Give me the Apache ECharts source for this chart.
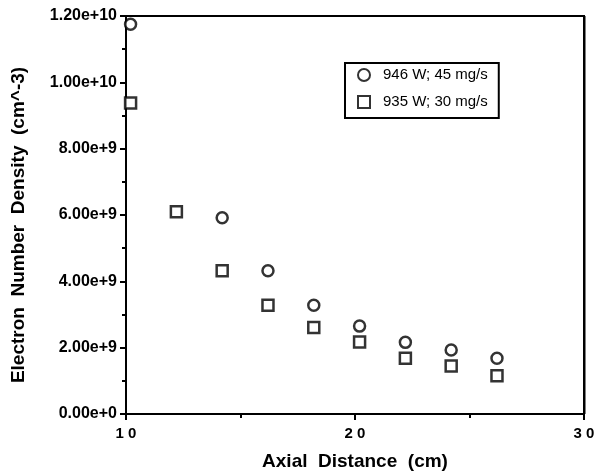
<!DOCTYPE html>
<html>
<head>
<meta charset="utf-8">
<script src="https://cdn.jsdelivr.net/npm/echarts@6/dist/echarts.min.js"></script>
<style>
  html, body { margin: 0; padding: 0; background: #fff; }
  #chart { width: 596px; height: 473px; }
</style>
</head>
<body>
<div id="chart"></div>
<script>
  // values (x in cm, y in cm^-3)
  const circleX = [10.2, 14.2, 16.2, 18.2, 20.2, 22.2, 24.2, 26.2];
  const circleY = [11.75e9, 5.92e9, 4.32e9, 3.28e9, 2.65e9, 2.16e9, 1.93e9, 1.68e9];
  const squareX = [10.2, 12.2, 14.2, 16.2, 18.2, 20.2, 22.2, 24.2, 26.2];
  const squareY = [9.38e9, 6.10e9, 4.32e9, 3.28e9, 2.61e9, 2.17e9, 1.68e9, 1.45e9, 1.15e9];
  const seriesNames = ["946 W; 45 mg/s", "935 W; 30 mg/s"];

  const font = "Liberation Sans, Arial, sans-serif";
  const zip = (xs, ys) => xs.map((x, i) => [x, ys[i]]);

  const myChart = echarts.init(document.getElementById("chart"));

  const axisLine = { show: true, onZero: false, lineStyle: { color: "#000", width: 2 } };
  const tick = { show: true, length: 6, lineStyle: { color: "#000", width: 2 } };
  const minor = { show: true, splitNumber: 2, length: 4, lineStyle: { color: "#000", width: 2 } };

  const option = {
    animation: false,
    backgroundColor: "#fff",
    grid: { left: 126, right: 12, top: 16, bottom: 59, show: false, outerBoundsMode: "none" },
    legend: {
      orient: "vertical",
      left: 345,
      top: 63,
      padding: [4, 11, 8, 12],
      itemGap: 11,
      itemWidth: 12,
      itemHeight: 12,
      borderColor: "#000",
      borderWidth: 2,
      borderRadius: 0,
      textStyle: { fontFamily: font, fontSize: 15, lineHeight: 16, color: "#000", padding: [0, 0, 0, 8] },
      data: seriesNames
    },
    xAxis: {
      type: "value",
      min: 10,
      max: 30,
      interval: 10,
      name: "Axial  Distance  (cm)",
      nameLocation: "middle",
      nameGap: 38,
      nameTextStyle: { fontFamily: font, fontSize: 19, fontWeight: "bold", color: "#000" },
      axisLine: axisLine,
      axisTick: tick,
      minorTick: minor,
      splitLine: { show: false },
      axisLabel: {
        fontFamily: font, fontSize: 15, fontWeight: "bold", color: "#000", margin: 12,
        formatter: v => String(v).split("").join(" ")
      }
    },
    yAxis: {
      type: "value",
      min: 0,
      max: 1.2e10,
      interval: 2e9,
      name: "Electron  Number  Density  (cm^-3)",
      nameLocation: "middle",
      nameGap: 98,
      nameTextStyle: { fontFamily: font, fontSize: 19, fontWeight: "bold", color: "#000", padding: [0, 20, 0, 0] },
      axisLine: axisLine,
      axisTick: tick,
      minorTick: minor,
      splitLine: { show: false },
      axisLabel: {
        fontFamily: font, fontSize: 16, fontWeight: "bold", color: "#000", margin: 9,
        formatter: v => v.toExponential(2)
      }
    },
    series: [
      {
        name: seriesNames[0],
        type: "scatter",
        symbol: "circle",
        symbolSize: 11,
        itemStyle: { color: "#fff", borderColor: "#000", borderWidth: 2.5 },
        data: zip(circleX, circleY)
      },
      {
        name: seriesNames[1],
        type: "scatter",
        symbol: "rect",
        symbolSize: 11,
        itemStyle: { color: "#fff", borderColor: "#000", borderWidth: 2.5 },
        data: zip(squareX, squareY)
      }
    ]
  };

  myChart.setOption(option);

  // top and right sides of the frame, placed through the axis scale
  const p0 = myChart.convertToPixel({ gridIndex: 0 }, [10, 1.2e10]);
  const p1 = myChart.convertToPixel({ gridIndex: 0 }, [30, 0]);
  myChart.setOption({
    graphic: [
      { type: "polyline", shape: { points: [[p0[0], p0[1]], [p1[0], p0[1]], [p1[0], p1[1]]] },
        style: { stroke: "#000", lineWidth: 2, fill: null }, z: 10 },
      { type: "line", shape: { x1: p1[0] + 1, y1: p0[1], x2: p1[0] + 1, y2: p1[1] },
        style: { stroke: "#000", lineWidth: 1 }, z: 10 }
    ]
  });
</script>
</body>
</html>
